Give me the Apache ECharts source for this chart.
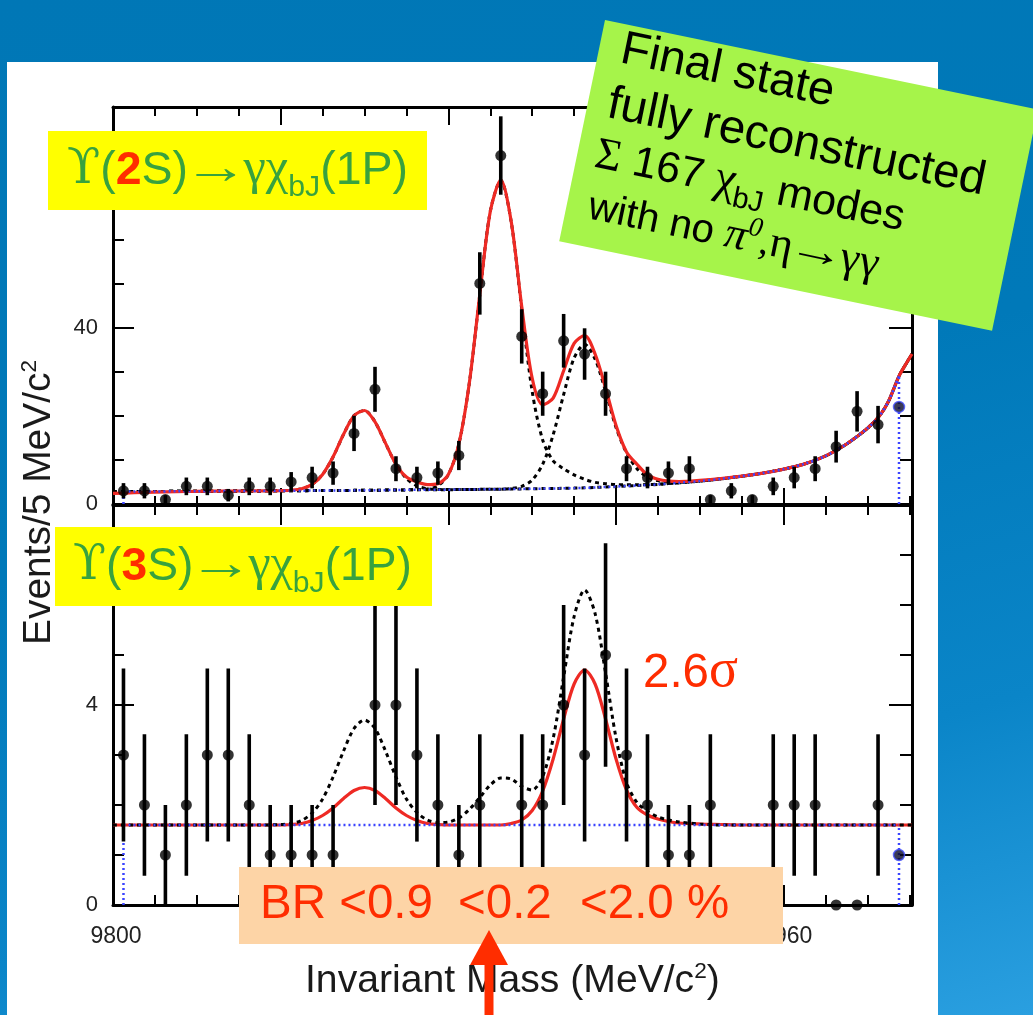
<!DOCTYPE html>
<html>
<head>
<meta charset="utf-8">
<title>Invariant mass spectra</title>
<script src="https://cdn.jsdelivr.net/npm/echarts/dist/echarts.min.js"></script>
<style>
  html, body { margin: 0; padding: 0; }
  #chart {
    width: 1033px; height: 1015px;
    background: linear-gradient(165deg, #0077b6 0%, #0079b9 45%, #0a85c8 75%, #2a9fe0 100%);
  }
</style>
</head>
<body>
<div id="chart"></div>
<script>
// ---------------- data ----------------
// 5 MeV bin centres
const massBins = [9802.5, 9807.5, 9812.5, 9817.5, 9822.5, 9827.5, 9832.5, 9837.5, 9842.5, 9847.5,
  9852.5, 9857.5, 9862.5, 9867.5, 9872.5, 9877.5, 9882.5, 9887.5, 9892.5, 9897.5,
  9902.5, 9907.5, 9912.5, 9917.5, 9922.5, 9927.5, 9932.5, 9937.5, 9942.5, 9947.5,
  9952.5, 9957.5, 9962.5, 9967.5, 9972.5, 9977.5, 9982.5, 9987.5];

// events per bin, Upsilon(2S) sample
const counts2S = [3, 3, 1, 4, 4, 2, 4, 4, 5, 6, 7, 16, 26, 8, 6, 7, 11, 50, 79, 38,
  25, 37, 34, 25, 8, 6, 7, 8, 1, 3, 1, 4, 6, 8, 13, 21, 18, 22];

// events per bin, Upsilon(3S) sample
const counts3S = [3, 2, 1, 2, 3, 3, 2, 1, 1, 1, 1, 0, 4, 4, 3, 2, 1, 2, 0, 2,
  2, 4, 3, 5, 3, 2, 1, 1, 2, 0, 0, 2, 2, 2, 0, 0, 2, 1];

// fit curves, Upsilon(2S) panel
const fitMass2S = [9800, 9805, 9810, 9815, 9820, 9825, 9830, 9835,
  9840, 9842.5, 9845, 9847.5, 9850, 9852.5, 9855, 9857.5, 9860, 9862.5, 9865, 9867.5,
  9870, 9872.5, 9875, 9877.5, 9880, 9882.5, 9885, 9887.5, 9890, 9892.5, 9895, 9897.5,
  9900, 9902.5, 9905, 9907.5, 9910, 9912.5, 9915, 9917.5, 9920, 9922.5, 9925, 9927.5,
  9930, 9932.5, 9935,
  9940, 9945, 9950, 9955, 9960, 9965, 9970, 9975, 9980,
  9983, 9985, 9987.5, 9989, 9990.6];
const fitTotal2S = [2.4, 2.55, 2.7, 2.8, 2.87, 2.92, 2.95, 2.97,
  3.02, 3.12, 3.45, 4.45, 6.7, 10.7, 15.8, 20.0, 21.2, 18.6, 13.8, 9.0,
  6.1, 5.0, 4.4, 4.6, 6.7, 13.6, 27.4, 47.5, 66.3, 73.4, 64.0, 44.8,
  28.5, 22.5, 24.0, 30.2, 36.4, 38.2, 34.0, 26.3, 17.8, 11.8, 9.0, 6.6,
  5.6, 5.2, 5.1,
  5.35, 5.75, 6.3, 7.0, 7.9, 9.1, 10.9, 13.6, 17.2,
  20.2, 23.3, 29, 31.5, 34];
const fitBg2S = [2.8, 2.82, 2.85, 2.87, 2.9, 2.92, 2.95, 2.97,
  3.0, 3.01, 3.02, 3.04, 3.05, 3.06, 3.07, 3.09, 3.1, 3.12, 3.15, 3.17,
  3.2, 3.21, 3.22, 3.24, 3.25, 3.27, 3.3, 3.32, 3.35, 3.37, 3.4, 3.42,
  3.45, 3.49, 3.52, 3.56, 3.6, 3.67, 3.75, 3.85, 3.95, 4.07, 4.2, 4.32,
  4.45, 4.63, 4.8,
  5.2, 5.7, 6.3, 7.0, 7.9, 9.1, 10.9, 13.6, 17.2,
  20.2, 23.3, 29, 31.5, 34];
const fitChib0_2S = [2.8, 2.82, 2.85, 2.87, 2.9, 2.92, 2.95, 2.97,
  3.02, 3.12, 3.45, 4.45, 6.7, 10.67, 15.77, 20.04, 21.2, 18.62, 13.75, 9.0,
  5.76, 4.11, 3.47, 3.3, 3.26, 3.27, 3.3, 3.32, 3.35, 3.37, 3.4, 3.42,
  3.45, 3.49, 3.52, 3.56, 3.6, 3.67, 3.75, 3.85, 3.95, 4.07, 4.2, 4.32,
  4.45, 4.63, 4.8,
  5.2, 5.7, 6.3, 7.0, 7.9, 9.1, 10.9, 13.6, 17.2,
  20.2, 23.3, 29, 31.5, 34];
const fitChib1_2S = [2.8, 2.82, 2.85, 2.87, 2.9, 2.92, 2.95, 2.97,
  3.0, 3.01, 3.02, 3.04, 3.05, 3.06, 3.07, 3.09, 3.1, 3.12, 3.15, 3.17,
  3.2, 3.25, 3.4, 4.12, 6.65, 13.57, 27.4, 47.5, 66.35, 73.37, 63.9, 44.2,
  25.5, 14.5, 9.8, 8.0, 6.6, 5.6, 4.9, 4.6, 4.4, 4.35, 4.35, 4.4,
  4.5, 4.63, 4.8,
  5.2, 5.7, 6.3, 7.0, 7.9, 9.1, 10.9, 13.6, 17.2,
  20.2, 23.3, 29, 31.5, 34];
const fitChib2_2S = [2.8, 2.82, 2.85, 2.87, 2.9, 2.92, 2.95, 2.97,
  3.0, 3.01, 3.02, 3.04, 3.05, 3.06, 3.07, 3.09, 3.1, 3.12, 3.15, 3.17,
  3.2, 3.21, 3.22, 3.24, 3.25, 3.27, 3.3, 3.32, 3.35, 3.37, 3.53, 4.0,
  5.45, 9.0, 15.7, 24.8, 33.1, 36.2, 32.85, 25.55, 17.35, 11.6, 8.0, 6.1,
  5.3, 5.0, 4.95,
  5.2, 5.7, 6.3, 7.0, 7.9, 9.1, 10.9, 13.6, 17.2,
  20.2, 23.3, 29, 31.5, 34];
// background level at the first and last bin centre
const bgEdge2S = [2.81, 29];

// fit curves, Upsilon(3S) panel
const fitMass3S = [9800, 9810, 9820, 9830, 9835,
  9840, 9842.5, 9845, 9847.5, 9850, 9852.5, 9855, 9857.5, 9860, 9862.5, 9865, 9867.5,
  9870, 9872.5, 9875, 9877.5, 9880, 9882.5, 9885, 9887.5, 9890, 9892.5, 9895, 9897.5,
  9900, 9902.5, 9905, 9907.5, 9910, 9912.5, 9915, 9917.5, 9920, 9922.5, 9925, 9927.5,
  9930, 9932.5, 9935,
  9940, 9945, 9950, 9960, 9970, 9980, 9990.6];
const fitTotal3S = [1.6, 1.6, 1.6, 1.6, 1.6,
  1.6, 1.61, 1.63, 1.69, 1.79, 1.94, 2.13, 2.29, 2.35, 2.29, 2.13, 1.94,
  1.79, 1.69, 1.63, 1.61, 1.6, 1.6, 1.6, 1.6, 1.6, 1.6, 1.63, 1.7,
  1.89, 2.28, 2.92, 3.72, 4.42, 4.7, 4.42, 3.72, 2.92, 2.3, 1.95, 1.8,
  1.72, 1.67, 1.64,
  1.62, 1.61, 1.6, 1.6, 1.6, 1.6, 1.6];
const fitUpper3S = [1.6, 1.6, 1.6, 1.6, 1.6,
  1.61, 1.63, 1.69, 1.84, 2.12, 2.56, 3.08, 3.53, 3.7, 3.53, 3.08, 2.56,
  2.12, 1.85, 1.7, 1.65, 1.66, 1.74, 1.91, 2.15, 2.4, 2.54, 2.52, 2.37,
  2.3, 2.57, 3.33, 4.56, 5.77, 6.3, 5.83, 4.64, 3.34, 2.45, 2.05, 1.88,
  1.76, 1.7, 1.66,
  1.62, 1.6, 1.6, 1.6, 1.6, 1.6, 1.6];
const bgLevel3S = [1.6, 1.6];

// tick labels
const xTickLabels = [9800, 9840, 9880, 9920, 9960];
const yTickLabels2S = [0, 40, 80];
const yTickLabels3S = [0, 4];

// ---------------- styling helpers ----------------
const SANS = '"Liberation Sans", Arial, Helvetica, sans-serif';
const SERIF = '"Liberation Serif", "DejaVu Serif", "Times New Roman", serif';
const DJ_SERIF = '"DejaVu Serif", "Liberation Serif", serif';
const RED = '#ff2d00';
const FIT_RED = '#ee2a24';
const BLUE = '#3b44ff';
const GREEN_TXT = '#38a23e';
const X_MIN = 9800, X_MAX = 9990.6;

const measureCtx = document.createElement('canvas').getContext('2d');
function fontOf(p, size) {
  return (p.italic ? 'italic ' : '') + (p.bold ? 'bold ' : '') + size.toFixed(2) + 'px ' + p.family;
}
// Lay out a run of differently styled pieces on one baseline,
// optionally scaled so that the whole run has the given width.
// A piece may be stretched horizontally (sx) and tightened on
// either side (pre / post, in unscaled pixels).
function runText(parts, x0, baseline, targetWidth, z) {
  let total = 0;
  parts.forEach(p => {
    measureCtx.font = fontOf(p, p.size);
    total += measureCtx.measureText(p.t).width * (p.sx || 1) + (p.pre || 0) + (p.post || 0);
  });
  const k = targetWidth ? targetWidth / total : 1;
  const out = [];
  let x = x0;
  parts.forEach(p => {
    const size = p.size * k;
    const font = fontOf(p, size);
    const sx = p.sx || 1;
    measureCtx.font = font;
    const m = measureCtx.measureText(p.t);
    const asc = (m.fontBoundingBoxAscent !== undefined) ? m.fontBoundingBoxAscent : 0.9 * size;
    const desc = (m.fontBoundingBoxDescent !== undefined) ? m.fontBoundingBoxDescent : 0.21 * size;
    const mid = (asc - desc) / 2;
    x += (p.pre || 0) * k;
    out.push({
      type: 'text', x: x, y: baseline + (p.dy || 0) * k - mid, scaleX: sx, z: z, silent: true,
      style: { text: p.t, font: font, fill: p.color || '#000',
               align: 'left', verticalAlign: 'middle', textAlign: 'left', textVerticalAlign: 'middle' }
    });
    x += m.width * sx + (p.post || 0) * k;
  });
  return out;
}

function pairs(xs, ys) { return xs.map((x, i) => [x, ys[i]]); }

// ---------------- axes ----------------
function xAx(grid, pos, interval, tickLen, showLine, labels) {
  return {
    type: 'value', gridIndex: grid, position: pos, min: X_MIN, max: X_MAX, interval: interval,
    axisLine: { show: showLine, onZero: false, lineStyle: { color: '#000', width: 3 } },
    axisTick: { show: true, inside: true, length: tickLen, lineStyle: { color: '#000', width: 2 } },
    axisLabel: labels ? {
      show: true, margin: 20, color: '#222', fontSize: 23, fontFamily: SANS,
      padding: [0, 0, 0, 6],
      showMinLabel: true, showMaxLabel: false,
      formatter: v => (xTickLabels.indexOf(Math.round(v)) >= 0 && Math.abs(v - Math.round(v)) < 1e-6) ? String(Math.round(v)) : ''
    } : { show: false },
    splitLine: { show: false }, minorTick: { show: false }, minorSplitLine: { show: false }
  };
}
function yAx(grid, pos, max, interval, tickLen, showLine, labelList) {
  return {
    type: 'value', gridIndex: grid, position: pos, min: 0, max: max, interval: interval,
    axisLine: { show: showLine, onZero: false, lineStyle: { color: '#000', width: 3 } },
    axisTick: { show: true, inside: true, length: tickLen, lineStyle: { color: '#000', width: 2 } },
    axisLabel: labelList ? {
      show: true, margin: 15, color: '#222', fontSize: 22, fontFamily: SANS,
      showMinLabel: true, showMaxLabel: false,
      formatter: v => (labelList.indexOf(v) >= 0 ? String(v) : '')
    } : { show: false },
    splitLine: { show: false }, minorTick: { show: false }, minorSplitLine: { show: false }
  };
}

const xAxes = [
  // Upsilon(2S) panel
  xAx(0, 'bottom', 40, 16, true, false),
  xAx(0, 'bottom', 10, 8, false, false),
  xAx(0, 'top', 40, 18, true, false),
  xAx(0, 'top', 10, 9, false, false),
  // Upsilon(3S) panel
  xAx(1, 'bottom', 40, 20, true, true),
  xAx(1, 'bottom', 10, 10, false, false),
  xAx(1, 'top', 40, 20, true, false),
  xAx(1, 'top', 10, 10, false, false)
];
const yAxes = [
  yAx(0, 'left', 90, 40, 21, true, yTickLabels2S),
  yAx(0, 'left', 90, 10, 11, false, null),
  yAx(0, 'right', 90, 40, 23, true, null),
  yAx(0, 'right', 90, 10, 12, false, null),
  yAx(1, 'left', 8, 4, 21, true, yTickLabels3S),
  yAx(1, 'left', 8, 1, 11, false, null),
  yAx(1, 'right', 8, 4, 23, true, null),
  yAx(1, 'right', 8, 1, 12, false, null)
];

// ---------------- series ----------------
function curve(ax, xs, ys, color, width, type, z) {
  return {
    type: 'line', xAxisIndex: ax, yAxisIndex: ax, data: pairs(xs, ys),
    smooth: 0.3, showSymbol: false, symbol: 'none', clip: true, silent: true, z: z,
    lineStyle: { color: color, width: width, type: type, cap: 'butt' }
  };
}
function segment(ax, pts, color, width, type, z) {
  return {
    type: 'line', xAxisIndex: ax, yAxisIndex: ax, data: pts,
    smooth: false, showSymbol: false, symbol: 'none', clip: true, silent: true, z: z,
    lineStyle: { color: color, width: width, type: type }
  };
}
function errorBars(ax, counts) {
  const data = [];
  counts.forEach((n, i) => {
    if (n > 0 && i < counts.length - 1) {
      const e = Math.sqrt(n);
      data.push([massBins[i], n - e, n + e]);
    }
  });
  return {
    type: 'custom', xAxisIndex: ax, yAxisIndex: ax, z: 8, silent: true, clip: true,
    encode: { x: 0, y: [1, 2] },
    renderItem: (params, api) => {
      const a = api.coord([api.value(0), api.value(1)]);
      const b = api.coord([api.value(0), api.value(2)]);
      return { type: 'line', shape: { x1: a[0], y1: a[1], x2: b[0], y2: b[1] },
               style: { stroke: '#000', lineWidth: 3.6 } };
    },
    data: data
  };
}
function points(ax, counts) {
  const data = counts.map((n, i) => {
    if (i === counts.length - 1) {
      return { value: [massBins[i], n], itemStyle: { color: '#0a0a2a', borderColor: '#4450ff', borderWidth: 1.5 } };
    }
    return [massBins[i], n];
  });
  return {
    type: 'scatter', xAxisIndex: ax, yAxisIndex: ax, data: data, symbol: 'circle',
    symbolSize: 11, z: 9, silent: true, clip: false, itemStyle: { color: '#000' }
  };
}

const firstBin = massBins[0], lastBin = massBins[massBins.length - 1];
const bgMain2S = [[firstBin, bgEdge2S[0]]].concat(
  pairs(fitMass2S, fitBg2S).filter(p => p[0] > firstBin && p[0] <= lastBin));

const series = [
  // Upsilon(2S) panel: components under the total fit
  curve(0, fitMass2S, fitChib0_2S, '#000', 3, [4, 4], 3),
  curve(0, fitMass2S, fitChib1_2S, '#000', 3, [4, 4], 3),
  curve(0, fitMass2S, fitChib2_2S, '#000', 3, [4, 4], 3),
  curve(0, fitMass2S, fitTotal2S, FIT_RED, 3.2, 'solid', 4),
  Object.assign(curve(0, [], [], BLUE, 2.5, [2, 3], 5), { data: bgMain2S }),
  segment(0, [[firstBin, 0], [firstBin, bgEdge2S[0]]], BLUE, 2.5, [2, 3], 5),
  segment(0, [[lastBin, 0], [lastBin, bgEdge2S[1]]], BLUE, 2.5, [2, 3], 5),
  errorBars(0, counts2S),
  points(0, counts2S),
  // Upsilon(3S) panel: upper-limit curve drawn over the fit
  curve(4, fitMass3S, fitTotal3S, FIT_RED, 3.2, 'solid', 3),
  curve(4, fitMass3S, fitUpper3S, '#000', 3, [4, 4], 4),
  segment(4, [[firstBin, bgLevel3S[0]], [lastBin, bgLevel3S[1]]], BLUE, 2.5, [2, 3], 5),
  segment(4, [[firstBin, 0], [firstBin, bgLevel3S[0]]], BLUE, 2.5, [2, 3], 5),
  segment(4, [[lastBin, 0], [lastBin, bgLevel3S[1]]], BLUE, 2.5, [2, 3], 5),
  errorBars(4, counts3S),
  points(4, counts3S)
];

// ---------------- annotations ----------------
const decayParts = (n) => [
  { t: '\u03D2', family: DJ_SERIF, size: 48, color: GREEN_TXT },
  { t: '(', family: SANS, size: 46, color: GREEN_TXT },
  { t: n, family: SANS, size: 46, bold: true, color: RED },
  { t: 'S)', family: SANS, size: 46, color: GREEN_TXT },
  { t: '\u2192', family: SERIF, size: 48, sx: 1.35, pre: -5, post: -5, color: GREEN_TXT },
  { t: '\u03B3\u03C7', family: SERIF, size: 50, color: GREEN_TXT },
  { t: 'bJ', family: SANS, size: 30, dy: 11, color: GREEN_TXT },
  { t: '(1P)', family: SANS, size: 46, color: GREEN_TXT }
];

const noteGroup = {
  type: 'group', x: 605, y: 20, rotation: -0.204, z: 60,
  children: [
    { type: 'rect', z: 60, silent: true, shape: { x: 0, y: 0, width: 442, height: 226 }, style: { fill: '#a6f44a' } }
  ].concat(
    runText([{ t: 'Final state', family: SANS, size: 46 }], 22, 42, 217, 61),
    runText([{ t: 'fully reconstructed', family: SANS, size: 46 }], 20, 98, 385, 61),
    runText([
      { t: '\u03A3', family: SERIF, size: 42 },
      { t: ' 167 ', family: SANS, size: 40 },
      { t: '\u03C7', family: SERIF, size: 44 },
      { t: 'bJ', family: SANS, size: 27, dy: 9 },
      { t: ' modes', family: SANS, size: 40 }
    ], 18, 149, 315, 61),
    runText([
      { t: 'with no ', family: SANS, size: 40 },
      { t: '\u03C0', family: SERIF, size: 44, italic: true },
      { t: '0', family: SERIF, size: 27, italic: true, dy: -17 },
      { t: ',', family: SERIF, size: 40 },
      { t: '\u03B7', family: SERIF, size: 44 },
      { t: '\u2192', family: SERIF, size: 42, sx: 1.35, pre: -4, post: -4 },
      { t: '\u03B3\u03B3', family: SERIF, size: 44 }
    ], 22, 200, 296, 61)
  )
};

const yTitle = {
  type: 'group', x: 0, y: 645, rotation: Math.PI / 2, z: 40,
  children: runText([
    { t: 'Events/5 MeV/c', family: SANS, size: 38, color: '#1a1a1a' },
    { t: '2', family: SANS, size: 22, dy: -15, color: '#1a1a1a' }
  ], 0, 53, 285, 40)
};

const graphics = [
  { type: 'rect', z: -10, silent: true, shape: { x: 7, y: 62, width: 931, height: 960 }, style: { fill: '#ffffff' } },
  // decay labels
  { type: 'rect', z: 50, silent: true, shape: { x: 48, y: 131, width: 379, height: 79 }, style: { fill: '#ffff00' } },
  { type: 'rect', z: 50, silent: true, shape: { x: 55, y: 527, width: 377, height: 79 }, style: { fill: '#ffff00' } },
  // branching-ratio limits
  { type: 'rect', z: 50, silent: true, shape: { x: 239, y: 867, width: 544, height: 77 }, style: { fill: '#fdd4a6' } },
  noteGroup,
  yTitle,
  // arrow pointing at the middle limit
  { type: 'polygon', z: 70, silent: true, shape: { points: [[489, 930], [470, 965], [508, 965]] }, style: { fill: RED } },
  { type: 'rect', z: 70, silent: true, shape: { x: 484.5, y: 962, width: 9, height: 60 }, style: { fill: RED } }
].concat(
  runText(decayParts('2'), 67, 187, 341, 51),
  runText(decayParts('3'), 73, 583, 339, 51),
  runText([{ t: 'BR <0.9', family: SANS, size: 47.5, color: RED }], 260, 921.5, 0, 51),
  runText([{ t: '<0.2', family: SANS, size: 47.5, color: RED }], 458, 921.5, 0, 51),
  runText([{ t: '<2.0 %', family: SANS, size: 47.5, color: RED }], 580, 921.5, 0, 51),
  runText([
    { t: '2.6', family: SANS, size: 44, color: RED },
    { t: '\u03C3', family: SERIF, size: 50, color: RED }
  ], 643, 690, 95, 51),
  runText([
    { t: 'Invariant Mass (MeV/c', family: SANS, size: 38, color: '#1a1a1a' },
    { t: '2', family: SANS, size: 22, dy: -15, color: '#1a1a1a' },
    { t: ')', family: SANS, size: 38, color: '#1a1a1a' }
  ], 305, 995, 415, 40)
);

const chart = echarts.init(document.getElementById('chart'), null, { renderer: 'canvas' });
chart.setOption({
  animation: false,
  backgroundColor: 'transparent',
  grid: [
    { left: 113, top: 107, width: 799, height: 397, containLabel: false, outerBoundsMode: 'none' },
    { left: 113, top: 505, width: 799, height: 400, containLabel: false, outerBoundsMode: 'none' }
  ],
  xAxis: xAxes,
  yAxis: yAxes,
  series: series,
  graphic: { elements: graphics }
});
</script>
</body>
</html>
